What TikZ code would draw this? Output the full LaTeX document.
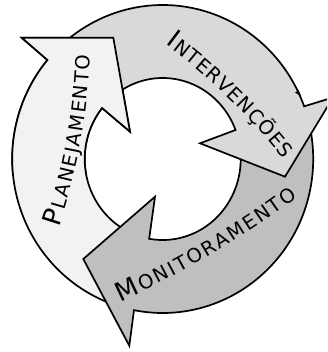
\documentclass[tikz,border=0pt]{standalone}
\usepackage{fontspec}
\setmainfont{DejaVu Sans}
\usetikzlibrary{decorations.text}

% ring geometry (outer and inner ellipse radii, centre)
\def\ringcx{162.7}
\def\ringcy{159}
\def\outRx{150.5}
\def\outRy{154}
\def\inRx{78}
\def\inRy{81}

\newcommand\capbig{\fontsize{26}{26}\selectfont}
\newcommand\capsmall{\fontsize{19.5}{19.5}\selectfont}

\definecolor{planfill}{gray}{0.95}
\definecolor{intfill}{gray}{0.85}
\definecolor{monfill}{gray}{0.75}

\tikzset{
  ringarrow/.style={draw=black, line width=1.7pt, line join=miter, miter limit=12},
  arclabel/.style={decorate, decoration={text along path, text={#1}, text align={fit to path}}},
  planarrow/.pic={
    \draw[ringarrow, fill=planfill]
      plot[domain=250:140, samples=70] ({\ringcx+\outRx*cos(\x)}, {\ringcy-\outRy*sin(\x)})
      -- (21.7,37.7) -- (113.3,37.7) -- (130,131.7)
      -- plot[domain=141:250, samples=70] ({\ringcx+\inRx*cos(\x)}, {\ringcy-\inRy*sin(\x)})
      -- cycle;
  },
}

\begin{document}
\begin{tikzpicture}[x=1pt,y=-1pt]
\useasboundingbox (0,0) rectangle (327,352);
\clip (0,0) rectangle (327,352);

% Planejamento (left, rising)
\pic at (0,0) {planarrow};

% Monitoramento (bottom, heading left)
\draw[ringarrow, fill=monfill]
  plot[domain=15:-101, samples=90] ({\ringcx+\outRx*cos(\x)}, {\ringcy-\outRy*sin(\x)})
  -- (129.3,345.7) -- (83.3,259) -- (155,196.7)
  -- plot[domain=-100:15, samples=90] ({\ringcx+\inRx*cos(\x)}, {\ringcy-\inRy*sin(\x)})
  -- cycle;

% Intervencoes (top, heading down right)
\draw[ringarrow, fill=intfill]
  plot[domain=135:20, samples=90] ({\ringcx+\outRx*cos(\x)}, {\ringcy-\outRy*sin(\x)})
  -- (333,97.5) -- (285,176.7) -- (200,143.3)
  -- plot[domain=21:135, samples=90] ({\ringcx+\inRx*cos(\x)}, {\ringcy-\inRy*sin(\x)})
  -- cycle;
\fill (295,92.7) -- (298.6,90.2) -- (301,95.9) -- cycle;

% head of the Planejamento arrow lies over the start of Intervencoes
\begin{scope}
  \clip (0,0) rectangle (327,175);
  \pic at (0,0) {planarrow};
\end{scope}

% labels
{\capsmall
\path[arclabel={|\capbig|P|\capsmall|LANEJAMENTO}]
  (59,227) .. controls (77.5,171) and (88,114.6) .. (90,55);
\path[arclabel={|\capbig|I|\capsmall|NTERVENÇÕES}]
  (165,44) .. controls (209.4,77) and (248.7,115.2) .. (283.7,159);
\path[arclabel={|\capbig|M|\capsmall|ONITORAMENTO}]
  (120.5,302) .. controls (183.8,273.1) and (241.7,238.3) .. (297.5,197);
}
\end{tikzpicture}
\end{document}
